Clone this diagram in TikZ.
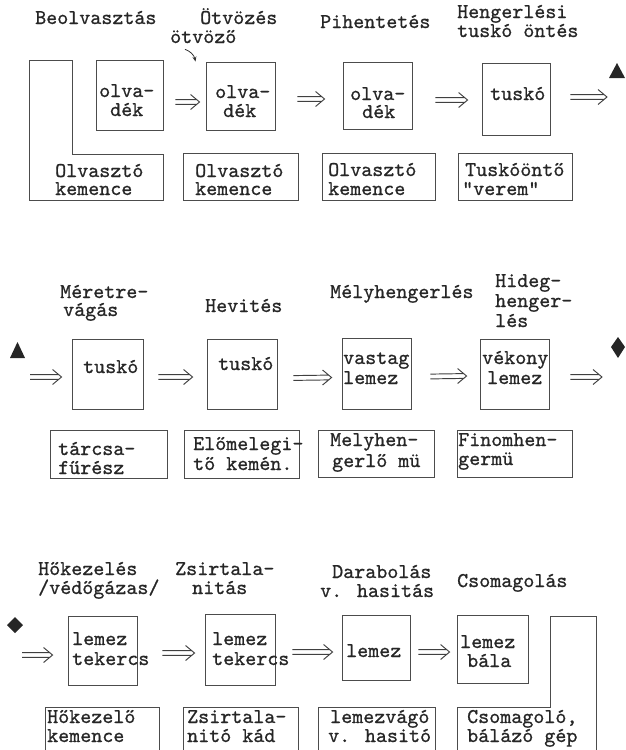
\documentclass[tikz,border=0pt]{standalone}
\usepackage{fontspec}
\newfontfamily\twriter{lmmono10-regular.otf}[FakeBold=0.8]
\usetikzlibrary{calc,fit,arrows.meta}
\tikzset{
  box/.style={draw=black!70, line width=0.9pt, inner sep=0pt, rectangle},
  frame/.style={draw=black!70, line width=0.9pt},
  txt/.style={font=\twriter\fontsize{21}{22}\selectfont, inner sep=0pt, text=black!85, anchor=base west},
  dline/.style={draw=black!75, line width=0.95pt, line join=miter},
  hook/.style={draw=black!80, line width=0.8pt, -{Stealth[length=5pt,width=4pt]}},
  blot/.style={fill=black!85, draw=none}
}
% double "implies" connector: start expression, end expression (calc syntax)
\newcommand{\dblarrow}[2]{%
  \draw[dline] ($#1+(0,-2.4)$) -- ($#2+(-3,-2.4)$)
               ($#1+(0,2.4)$) -- ($#2+(-3,2.4)$)
               ($#2+(-9,-7.5)$) -- ($#2$) -- ($#2+(-9,7.5)$);
}
\begin{document}
\begin{tikzpicture}[x=1pt,y=-1pt]
\useasboundingbox (0,0) rectangle (625,750);
% ---------------- Row 1 ----------------
\node[txt] (t1) at (35,24) {Beolvasztás};
\node[txt] (t2) at (200,24) {Ötvözés};
\node[txt] (otv) at (170,43) {ötvöző};
\node[txt] (t3) at (320,28) {Pihentetés};
\node[txt] (t4a) at (457,18) {Hengerlési};
\node[txt] (t4b) at (457,37) {tuskó öntés};

\draw[frame] (29,60) -- (72,60) -- (72,154) -- (163,154) -- (163,200) -- (29,200) -- cycle;
\node[txt] (k1a) at (55,177) {Olvasztó};
\node[txt] (k1b) at (55,195) {kemence};

\node[box, fit={(96,60) (163,130)}] (b1) {};
\node[txt] at (99,97) {olva-};
\node[txt] at (110,116) {dék};
\node[box, fit={(206,62) (275,130)}] (b2) {};
\node[txt] at (215,98) {olva-};
\node[txt] at (223,117) {dék};
\node[box, fit={(343,62) (412,129)}] (b3) {};
\node[txt] at (350,100) {olva-};
\node[txt] at (362,118) {dék};
\node[box, fit={(482,63) (550,135)}] (b4) {};
\node[txt] at (490,100) {tuskó};

\node[box, fit={(183,153) (298,200)}] (k2) {};
\node[txt] at (195,177) {Olvasztó};
\node[txt] at (195,195) {kemence};
\node[box, fit={(322,153) (435,200)}] (k3) {};
\node[txt] at (328,176) {Olvasztó};
\node[txt] at (328,195) {kemence};
\node[box, fit={(458,153) (572,200)}] (k4) {};
\node[txt] at (465,176) {Tuskóöntő};
\node[txt] at (462,195) {"verem"};

\draw[hook] ($(otv.south west)+(15,6)$) .. controls (190,51) and (194,55) .. ([xshift=-10pt]b2.north west);
\dblarrow{(b1.east)+(12,7)}{(b2.west)+(-6,6)}
\dblarrow{(b2.east)+(22,3)}{(b3.west)+(-18,3.5)}
\dblarrow{(b3.east)+(23,4.5)}{(b4.west)+(-14,1)}
\coordinate (r1end) at (607,97);
\dblarrow{(b4.east)+(20,-2)}{(r1end)}
\fill[blot] (617,63) -- (625,78) -- (609,78) -- cycle;

% ---------------- Row 2 ----------------
\node[txt] at (60,298) {Méretre-};
\node[txt] at (63,316) {vágás};
\node[txt] at (205,312) {Hevités};
\node[txt] at (330,298) {Mélyhengerlés};
\node[txt] at (495,287) {Hideg-};
\node[txt] at (495,307) {henger-};
\node[txt] at (495,327) {lés};

\fill[blot] (17.5,342) -- (25,358) -- (10,358) -- cycle;
\coordinate (r2start) at (30,377);
\node[box, fit={(72,339) (143,409)}] (c1) {};
\node[txt] at (83,373) {tuskó};
\node[box, fit={(207,339) (277,409)}] (c2) {};
\node[txt] at (218,370) {tuskó};
\node[box, fit={(342,338) (411,409)}] (c3) {};
\node[txt] at (343,364) {vastag};
\node[txt] at (343,384) {lemez};
\node[box, fit={(480,339) (549,409)}] (c4) {};
\node[txt] at (482,364) {vékony};
\node[txt] at (487,384) {lemez};
\coordinate (r2end) at (602,377);
\fill[blot] (618,337) -- (625,347) -- (618,358) -- (611,347) -- cycle;

\dblarrow{(r2start)}{(c1.west)+(-10,3)}
\dblarrow{(c1.east)+(15,3)}{(c2.west)+(-14,3)}
\dblarrow{(c2.east)+(16,4)}{(c3.west)+(-10,4)}
\dblarrow{(c3.east)+(19,3)}{(c4.west)+(-13,2)}
\dblarrow{(c4.east)+(21,3)}{(r2end)}

\node[box, fit={(50,430) (167,478)}] (d1) {};
\node[txt] at (58,455) {tárcsa-};
\node[txt] at (58,474) {fűrész};
\node[box, fit={(184,430) (299,478)}] (d2) {};
\node[txt] at (193,450) {Előmelegi-};
\node[txt] at (193,470) {tő kemén.};
\node[box, fit={(318,430) (434,477)}] (d3) {};
\node[txt] at (330,446) {Melyhen-};
\node[txt] at (332,467) {gerlő mü};
\node[box, fit={(457,430) (572,477)}] (d4) {};
\node[txt] at (458,446) {Finomhen-};
\node[txt] at (458,465) {germü};

% ---------------- Row 3 ----------------
\node[txt] at (38,575) {Hőkezelés};
\node[txt] at (38,594) {/védőgázas/};
\node[txt] at (175,575) {Zsirtala-};
\node[txt] at (192,594) {nitás};
\node[txt] at (332,578) {Darabolás};
\node[txt] at (320,597) {v. hasitás};
\node[txt] at (457,587) {Csomagolás};

\fill[blot] (15,617) -- (23,625) -- (15,633) -- (7,625) -- cycle;
\coordinate (r3start) at (22,655);
\node[box, fit={(68,616) (137,685)}] (e1) {};
\node[txt] at (72,645) {lemez};
\node[txt] at (72,665) {tekercs};
\node[box, fit={(205,614) (275,685)}] (e2) {};
\node[txt] at (212,645) {lemez};
\node[txt] at (212,665) {tekercs};
\node[box, fit={(342,615) (410,680)}] (e3) {};
\node[txt] at (346,657) {lemez};
\node[box, fit={(457,615) (528,683)}] (e4) {};
\node[txt] at (460,648) {lemez};
\node[txt] at (467,667) {bála};

\dblarrow{(r3start)}{(e1.west)+(-15,4.5)}
\dblarrow{(e1.east)+(25,2.5)}{(e2.west)+(-10,3.5)}
\dblarrow{(e2.east)+(17,2.5)}{(e3.west)+(-9,4.5)}
\dblarrow{(e3.east)+(8,4.5)}{(e4.west)+(-7,3)}

\draw[frame] (45,750) -- (45,707) -- (159,707) -- (159,750);
\node[txt] at (47,723) {Hőkezelő};
\node[txt] at (47,742) {kemence};
\draw[frame] (183,750) -- (183,707) -- (298,707) -- (298,750);
\node[txt] at (187,723) {Zsirtala-};
\node[txt] at (187,742) {nitó kád};
\draw[frame] (318,750) -- (318,707) -- (435,707) -- (435,750);
\node[txt] at (330,723) {lemezvágó};
\node[txt] at (328,742) {v. hasitó};
\draw[frame] (457,750) -- (457,707) -- (550,707) -- (550,616) -- (596,616) -- (596,750);
\node[txt] at (467,723) {Csomagoló,};
\node[txt] at (467,742) {bálázó gép};
\end{tikzpicture}
\end{document}
